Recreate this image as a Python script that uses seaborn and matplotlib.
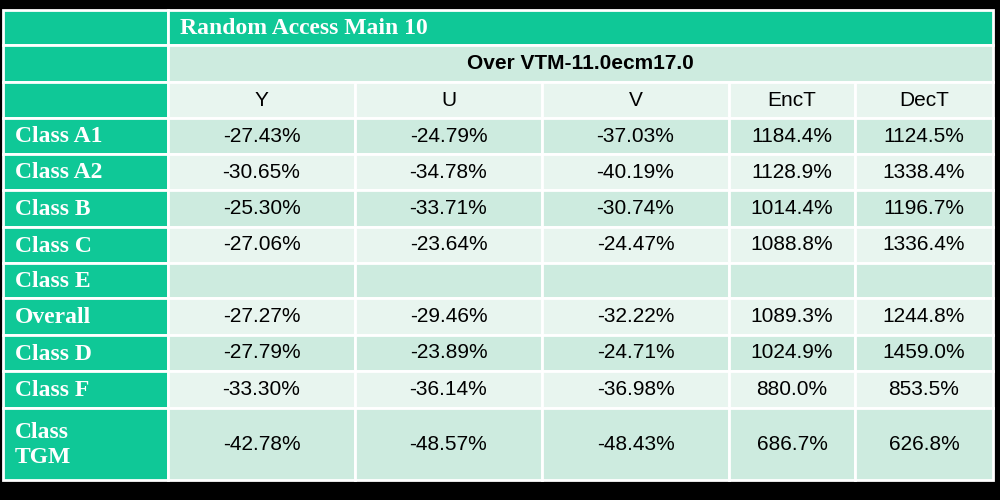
import matplotlib
matplotlib.use("Agg")
import matplotlib.pyplot as plt
from matplotlib.patches import Rectangle
import seaborn as sns

sns.set_theme(style="white")

title = "Random Access Main 10"
subtitle = "Over VTM-11.0ecm17.0"
columns = ["Y", "U", "V", "EncT", "DecT"]
classes = ["Class A1", "Class A2", "Class B", "Class C", "Class E",
           "Overall", "Class D", "Class F", "Class\nTGM"]
Y = ["-27.43%", "-30.65%", "-25.30%", "-27.06%", "", "-27.27%", "-27.79%", "-33.30%", "-42.78%"]
U = ["-24.79%", "-34.78%", "-33.71%", "-23.64%", "", "-29.46%", "-23.89%", "-36.14%", "-48.57%"]
V = ["-37.03%", "-40.19%", "-30.74%", "-24.47%", "", "-32.22%", "-24.71%", "-36.98%", "-48.43%"]
EncT = ["1184.4%", "1128.9%", "1014.4%", "1088.8%", "", "1089.3%", "1024.9%", "880.0%", "686.7%"]
DecT = ["1124.5%", "1338.4%", "1196.7%", "1336.4%", "", "1244.8%", "1459.0%", "853.5%", "626.8%"]
data = [Y, U, V, EncT, DecT]

GREEN = "#0FC897"
DARK = "#CDEBDF"
LIGHT = "#E8F5EF"

xs = [3, 168, 355, 542, 729, 855, 993]
ys = [10, 45, 82, 118, 154, 190, 227, 263, 298, 335, 371, 408, 480]

fig = plt.figure(figsize=(10, 5), dpi=100, facecolor="black")
ax = fig.add_axes([0, 0, 1, 1])
ax.set_facecolor("black")
ax.set_xlim(0, 1000)
ax.set_ylim(500, 0)
ax.axis("off")

def cell(x0, x1, y0, y1, color):
    ax.add_patch(Rectangle((x0, y0), x1 - x0, y1 - y0, facecolor=color,
                           edgecolor="white", linewidth=2))

serif = "Liberation Serif"
sans = "Liberation Sans"

# header rows
for r in range(3):
    cell(xs[0], xs[1], ys[r], ys[r + 1], GREEN)
cell(xs[1], xs[-1], ys[0], ys[1], GREEN)
ax.text(xs[1] + 12, (ys[0] + ys[1]) / 2 + 1, title, color="white", fontsize=17,
        fontweight="bold", family=serif, va="center", ha="left")
cell(xs[1], xs[-1], ys[1], ys[2], DARK)
ax.text((xs[1] + xs[-1]) / 2, (ys[1] + ys[2]) / 2, subtitle, color="black",
        fontsize=15, fontweight="bold", family=sans, va="center", ha="center")
for c, name in enumerate(columns):
    cell(xs[c + 1], xs[c + 2], ys[2], ys[3], LIGHT)
    ax.text((xs[c + 1] + xs[c + 2]) / 2, (ys[2] + ys[3]) / 2, name, fontsize=15,
            family=sans, va="center", ha="center", color="black")

for r, cls in enumerate(classes):
    y0, y1 = ys[r + 3], ys[r + 4]
    bg = DARK if r % 2 == 0 else LIGHT
    cell(xs[0], xs[1], y0, y1, GREEN)
    ax.text(xs[0] + 12, (y0 + y1) / 2 + 1, cls, color="white", fontsize=17,
            fontweight="bold", family=serif, va="center", ha="left", linespacing=1.2)
    for c in range(5):
        cell(xs[c + 1], xs[c + 2], y0, y1, bg)
        ax.text((xs[c + 1] + xs[c + 2]) / 2, (y0 + y1) / 2, data[c][r], fontsize=15,
                family=sans, va="center", ha="center", color="black")

fig.savefig("out.png", dpi=100, facecolor="black")
